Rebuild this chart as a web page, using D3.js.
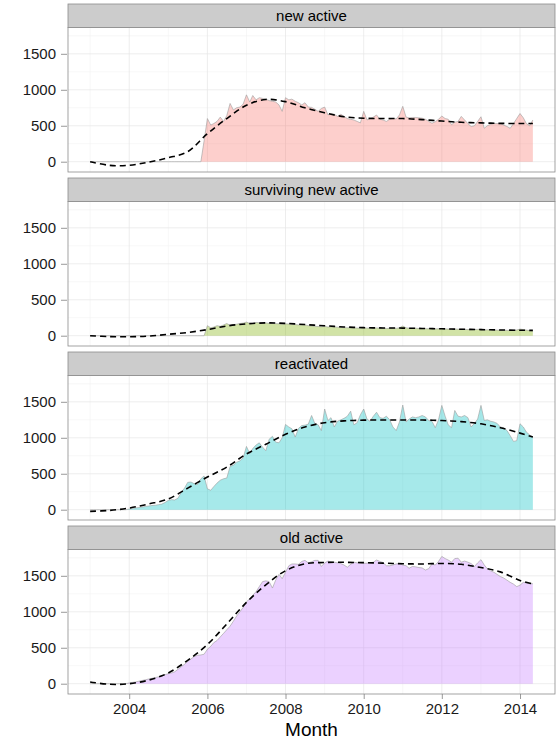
<!DOCTYPE html>
<html>
<head>
<meta charset="utf-8">
<script src="https://cdn.jsdelivr.net/npm/d3@7"></script>
<style>
  body { margin: 0; background: #fff; }
  text { font-family: "Liberation Sans", Arial, Helvetica, sans-serif; }
</style>
</head>
<body>
<svg id="chart" width="559" height="740"></svg>
<script>
const facets = ['new active', 'surviving new active', 'reactivated', 'old active'];
const facetColors = ['#F8766D', '#7CAE00', '#00BFC4', '#C77CFF'];

// monthly counts, 2003-01 .. 2014-05
const newActive = [
  0, 0, 0, 0, 0, 0, 0, 0, 0, 0, 0, 0,
  0, 0, 0, 0, 0, 0, 0, 0, 0, 0, 0, 0,
  0, 0, 0, 0, 0, 0, 0, 0, 0, 0, 0, 290,
  600, 510, 530, 560, 620, 560, 640, 810, 720, 750, 760, 800,
  930, 830, 920, 860, 890, 880, 870, 850, 840, 830, 790, 700,
  890, 860, 870, 840, 820, 790, 820, 760, 755, 730, 700, 740,
  760, 650, 670, 660, 630, 660, 630, 600, 590, 580, 560, 540,
  700, 580, 600, 620, 650, 590, 580, 560, 590, 600, 595, 650,
  770, 620, 610, 615, 615, 610, 605, 590, 560, 535, 555, 590,
  635, 600, 590, 515, 550, 560, 630, 580, 530, 490, 500, 560,
  625, 465, 500, 520, 530, 530, 530, 510, 490, 465, 530, 600,
  670, 610, 530, 500, 580
];
const survivingNewActive = [
  0, 0, 0, 0, 0, 0, 0, 0, 0, 0, 0, 0,
  0, 0, 0, 0, 0, 0, 0, 0, 0, 0, 0, 0,
  0, 0, 0, 0, 0, 0, 0, 0, 0, 0, 0, 0,
  140, 110, 120, 140, 130, 150, 170, 145, 155, 160, 170, 175,
  190, 170, 175, 185, 180, 175, 178, 172, 170, 168, 165, 160,
  165, 162, 160, 155, 150, 148, 150, 140, 135, 130, 128, 125,
  130, 120, 125, 122, 118, 115, 112, 110, 110, 108, 106, 105,
  110, 105, 106, 104, 108, 105, 102, 100, 103, 104, 102, 110,
  135, 110, 105, 103, 104, 100, 98, 97, 96, 98, 95, 96,
  100, 95, 92, 90, 93, 90, 92, 88, 85, 84, 86, 88,
  92, 80, 82, 80, 80, 78, 77, 76, 75, 74, 76, 80,
  92, 85, 78, 72, 65
];
const reactivated = [
  0, 0, 0, 0, 0, 0, 0, 0, 0, 0, 0, 0,
  10, 18, 25, 30, 38, 45, 52, 58, 62, 70, 78, 100,
  130, 140, 135, 160, 240, 300, 380, 385, 360, 350, 430, 470,
  290, 270, 320, 370, 410, 430, 440, 600, 620, 660, 680, 720,
  880, 780, 850, 900, 930, 870, 820, 980, 1020, 940, 930, 1000,
  1185, 1150, 1125, 1010, 1130, 1170, 1175, 1190, 1310, 1200, 1180, 1100,
  1400, 1240, 1280, 1150, 1230, 1250, 1270, 1300, 1370, 1180, 1210, 1320,
  1400, 1260, 1230, 1300, 1355, 1280, 1270, 1300, 1250, 1150, 1100, 1220,
  1455, 1220, 1260, 1290, 1280, 1290, 1310, 1290, 1240, 1230, 1140, 1250,
  1450, 1300, 1180, 1140, 1380, 1300, 1290, 1310, 1280, 1150, 1200, 1260,
  1450, 1240, 1250, 1230, 1220, 1200, 1150, 1140, 1100, 1030, 950, 960,
  1195, 1150, 1080, 1040, 1010
];
const oldActive = [
  0, 0, 0, 0, 0, 0, 0, 0, 0, 0, 0, 0,
  10, 18, 25, 35, 45, 55, 65, 75, 85, 95, 110, 125,
  140, 150, 165, 200, 235, 270, 310, 345, 380, 395, 400, 410,
  480, 520, 570, 600, 650, 700, 750, 800, 870, 940, 1000, 1060,
  1140, 1180, 1230, 1280, 1350, 1420, 1430, 1420, 1330, 1440, 1520, 1460,
  1550, 1640, 1665, 1665, 1660, 1700, 1715, 1680, 1695, 1715, 1715, 1630,
  1680, 1705, 1695, 1690, 1680, 1670, 1650, 1620, 1660, 1690, 1680, 1675,
  1675, 1675, 1680, 1690, 1720, 1700, 1685, 1640, 1640, 1650, 1665, 1670,
  1650, 1640, 1605, 1630, 1625, 1615, 1610, 1580, 1600, 1665, 1650, 1700,
  1770, 1740, 1720, 1690, 1740, 1745, 1690, 1705, 1690, 1670, 1630, 1680,
  1725, 1650, 1600, 1570, 1550, 1520, 1490, 1470, 1440, 1410, 1385, 1350,
  1370, 1410, 1400, 1390, 1390
];

// smoothed (loess) trend, read at half-year knots
const smoothMonths = [
  '2003-01', '2003-07', '2004-01', '2004-07', '2005-01', '2005-07', '2006-01', '2006-07',
  '2007-01', '2007-07', '2008-01', '2008-07', '2009-01', '2009-07', '2010-01', '2010-07',
  '2011-01', '2011-07', '2012-01', '2012-07', '2013-01', '2013-07', '2014-01', '2014-05'
];
const smoothNew = [0, -50, -50, -5, 55, 140, 390, 600, 785, 866, 835, 750, 680, 625, 605, 600, 600, 585, 565, 548, 540, 533, 532, 532];
const smoothSurviving = [0, -12, -14, -5, 20, 45, 85, 135, 165, 178, 172, 155, 138, 122, 112, 108, 106, 101, 96, 90, 85, 80, 76, 74];
const smoothReactivated = [-23, -10, 23, 80, 150, 300, 454, 593, 775, 910, 1048, 1150, 1210, 1235, 1245, 1248, 1248, 1247, 1240, 1225, 1194, 1140, 1065, 1010];
const smoothOld = [25, -8, 0, 50, 150, 325, 545, 830, 1130, 1375, 1570, 1667, 1685, 1688, 1683, 1676, 1668, 1665, 1672, 1660, 1615, 1555, 1435, 1389];

const seriesValues = [newActive, survivingNewActive, reactivated, oldActive];
const smoothValues = [smoothNew, smoothSurviving, smoothReactivated, smoothOld];
const yTicks = [0, 500, 1000, 1500];
const yMinor = [250, 750, 1250, 1750];
const xTickYears = [2004, 2006, 2008, 2010, 2012, 2014];
const xMinorYears = [2003, 2005, 2007, 2009, 2011, 2013];

const months = d3.timeMonth.range(new Date(2003, 0, 1), new Date(2014, 5, 1));
const parseMonth = d3.timeParse('%Y-%m');
const smoothDates = smoothMonths.map(parseMonth);

const svg = d3.select('#chart');
const panelLeft = 68;
const panelRight = 555;
const firstTop = 4;
const panelStep = 174;
const stripH = 23.5;
const plotH = 144.5;

const t0 = months[0];
const t1 = months[months.length - 1];
const pad = (t1 - t0) * 0.05;
const x = d3.scaleTime()
  .domain([new Date(+t0 - pad), new Date(+t1 + pad)])
  .range([panelLeft, panelRight]);

facets.forEach((name, i) => {
  const stripTop = firstTop + i * panelStep;
  const plotTop = stripTop + stripH;
  const plotBottom = plotTop + plotH;
  const y = d3.scaleLinear().domain([-143, 1866]).range([plotBottom, plotTop]);
  const g = svg.append('g');

  g.append('rect')
    .attr('x', panelLeft).attr('y', plotTop)
    .attr('width', panelRight - panelLeft).attr('height', plotH)
    .attr('fill', '#fff');

  // grid
  g.selectAll('.ymin').data(yMinor).enter().append('line')
    .attr('x1', panelLeft).attr('x2', panelRight)
    .attr('y1', d => y(d)).attr('y2', d => y(d))
    .attr('stroke', '#f2f2f2').attr('stroke-width', 0.6);
  g.selectAll('.xmin').data(xMinorYears).enter().append('line')
    .attr('x1', d => x(new Date(d, 0, 1))).attr('x2', d => x(new Date(d, 0, 1)))
    .attr('y1', plotTop).attr('y2', plotBottom)
    .attr('stroke', '#f2f2f2').attr('stroke-width', 0.6);
  g.selectAll('.ymaj').data(yTicks).enter().append('line')
    .attr('x1', panelLeft).attr('x2', panelRight)
    .attr('y1', d => y(d)).attr('y2', d => y(d))
    .attr('stroke', '#e5e5e5').attr('stroke-width', 0.7);
  g.selectAll('.xmaj').data(xTickYears).enter().append('line')
    .attr('x1', d => x(new Date(d, 0, 1))).attr('x2', d => x(new Date(d, 0, 1)))
    .attr('y1', plotTop).attr('y2', plotBottom)
    .attr('stroke', '#e5e5e5').attr('stroke-width', 0.7);

  const points = months.map((m, k) => ({ date: m, value: seriesValues[i][k] }));

  g.append('path')
    .datum(points)
    .attr('fill', facetColors[i])
    .attr('fill-opacity', 0.35)
    .attr('d', d3.area().x(d => x(d.date)).y0(y(0)).y1(d => y(d.value)));

  g.append('path')
    .datum(points)
    .attr('fill', 'none')
    .attr('stroke', '#9c9c9c')
    .attr('stroke-width', 0.6)
    .attr('d', d3.line().x(d => x(d.date)).y(d => y(d.value)));

  const smooth = smoothDates.map((d, k) => ({ date: d, value: smoothValues[i][k] }));
  g.append('path')
    .datum(smooth)
    .attr('fill', 'none')
    .attr('stroke', '#000')
    .attr('stroke-width', 1.6)
    .attr('stroke-dasharray', '6,4')
    .attr('d', d3.line().curve(d3.curveCatmullRom).x(d => x(d.date)).y(d => y(d.value)));

  g.append('rect')
    .attr('x', panelLeft).attr('y', plotTop)
    .attr('width', panelRight - panelLeft).attr('height', plotH)
    .attr('fill', 'none').attr('stroke', '#8c8c8c').attr('stroke-width', 0.8);

  // strip
  g.append('rect')
    .attr('x', panelLeft).attr('y', stripTop)
    .attr('width', panelRight - panelLeft).attr('height', stripH)
    .attr('fill', '#cccccc').attr('stroke', '#8c8c8c').attr('stroke-width', 0.8);
  g.append('text')
    .attr('x', (panelLeft + panelRight) / 2).attr('y', stripTop + stripH / 2)
    .attr('dy', '0.36em')
    .attr('text-anchor', 'middle')
    .attr('font-size', 15)
    .attr('fill', '#000')
    .text(name);

  // y axis
  const yAxis = d3.axisLeft(y).tickValues(yTicks).tickFormat(d3.format('d'))
    .tickSize(6).tickPadding(5);
  const ya = g.append('g').attr('transform', `translate(${panelLeft - 1},0)`).call(yAxis);
  ya.select('.domain').remove();
  ya.selectAll('line').attr('stroke', '#7f7f7f').attr('stroke-width', 0.8);
  ya.selectAll('text').attr('font-size', 15).attr('fill', '#1a1a1a')
    .style('font-family', '"Liberation Sans", Arial, sans-serif');

  if (i === facets.length - 1) {
    const xAxis = d3.axisBottom(x)
      .tickValues(xTickYears.map(yr => new Date(yr, 0, 1)))
      .tickFormat(d3.timeFormat('%Y'))
      .tickSize(5).tickPadding(4);
    const xa = g.append('g').attr('transform', `translate(0,${plotBottom})`).call(xAxis);
    xa.select('.domain').remove();
    xa.selectAll('line').attr('stroke', '#7f7f7f').attr('stroke-width', 0.8);
    xa.selectAll('text').attr('font-size', 15).attr('fill', '#1a1a1a')
      .style('font-family', '"Liberation Sans", Arial, sans-serif');

    svg.append('text')
      .attr('x', (panelLeft + panelRight) / 2).attr('y', 736)
      .attr('text-anchor', 'middle')
      .attr('font-size', 19)
      .attr('fill', '#000')
      .text('Month');
  }
});
</script>
</body>
</html>
